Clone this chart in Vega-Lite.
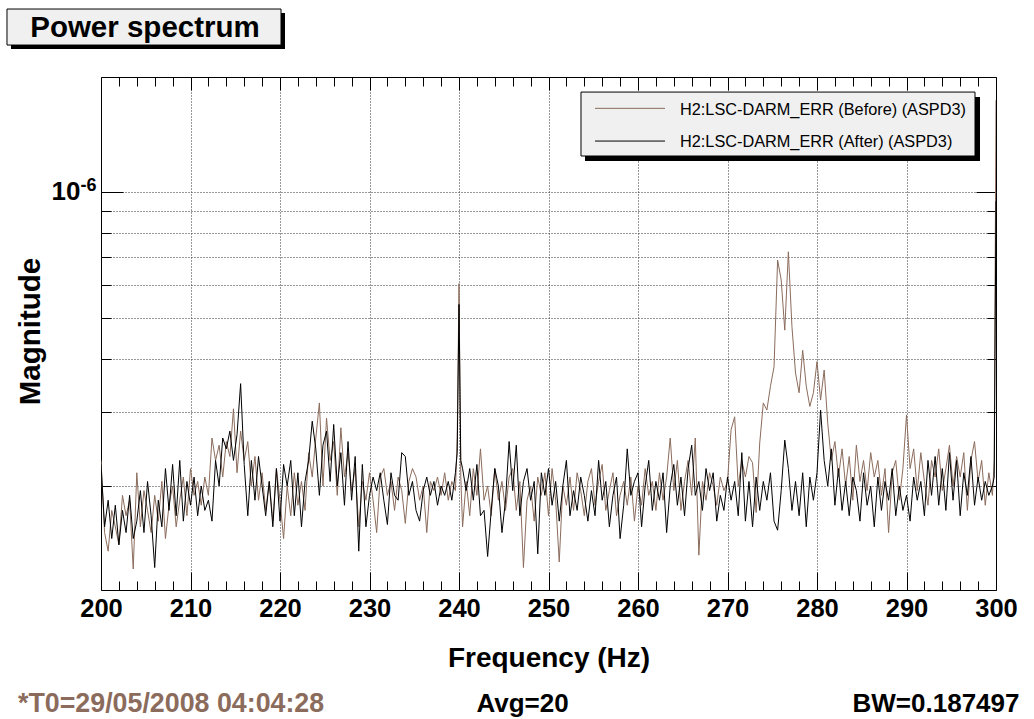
{
"$schema": "https://vega.github.io/schema/vega-lite/v6.json",
"width": 895, "height": 513,
"autosize": "none",
"padding": {"left": 101, "top": 77, "right": 38, "bottom": 129},
"background": "white",
"config": {
  "view": {"stroke": "black", "strokeWidth": 1},
  "axis": {"domain": false, "labelFont": "Liberation Sans", "titleFont": "Liberation Sans", "labelColor": "black", "titleColor": "black", "tickColor": "black", "tickWidth": 1, "gridColor": "#333333", "gridDash": [1, 2], "gridWidth": 1},
  "text": {"font": "Liberation Sans"}
},
"data": {"values": [
{"f":200,"b":2.3e-7,"a":2.25e-7},{"f":200.4,"b":1.55e-7,"a":1.6e-7},{"f":200.8,"b":1.4e-7,"a":1.85e-7},{"f":201.2,"b":1.75e-7,"a":1.5e-7},{"f":201.6,"b":1.6e-7,"a":1.8e-7},
{"f":202,"b":1.45e-7,"a":1.45e-7},{"f":202.4,"b":1.9e-7,"a":1.75e-7},{"f":202.8,"b":1.7e-7,"a":1.55e-7},{"f":203.2,"b":1.85e-7,"a":1.9e-7},{"f":203.6,"b":1.27e-7,"a":1.5e-7},
{"f":204,"b":2.15e-7,"a":1.65e-7},{"f":204.4,"b":1.6e-7,"a":1.95e-7},{"f":204.8,"b":1.95e-7,"a":1.55e-7},{"f":205.2,"b":1.75e-7,"a":2.05e-7},{"f":205.6,"b":1.55e-7,"a":1.7e-7},
{"f":206,"b":1.9e-7,"a":1.28e-7},{"f":206.4,"b":1.65e-7,"a":1.85e-7},{"f":206.8,"b":2.05e-7,"a":1.6e-7},{"f":207.2,"b":1.5e-7,"a":2.2e-7},{"f":207.6,"b":1.8e-7,"a":1.75e-7},
{"f":208,"b":2.0e-7,"a":2.25e-7},{"f":208.4,"b":1.6e-7,"a":1.7e-7},{"f":208.8,"b":1.85e-7,"a":2.3e-7},{"f":209.2,"b":2.1e-7,"a":1.65e-7},{"f":209.6,"b":1.7e-7,"a":2.05e-7},
{"f":210,"b":2.2e-7,"a":1.8e-7},{"f":210.4,"b":1.9e-7,"a":2.1e-7},{"f":210.8,"b":2.05e-7,"a":1.7e-7},{"f":211.2,"b":1.8e-7,"a":2.0e-7},{"f":211.6,"b":2.1e-7,"a":1.75e-7},
{"f":212,"b":1.9e-7,"a":1.85e-7},{"f":212.4,"b":2.6e-7,"a":1.65e-7},{"f":212.8,"b":2.3e-7,"a":2.3e-7},{"f":213.2,"b":2.5e-7,"a":2.0e-7},{"f":213.6,"b":2.1e-7,"a":2.6e-7},
{"f":214,"b":2.55e-7,"a":2.45e-7},{"f":214.4,"b":2.35e-7,"a":2.7e-7},{"f":214.8,"b":3.05e-7,"a":2.3e-7},{"f":215.2,"b":2.15e-7,"a":2.65e-7},{"f":215.6,"b":2.7e-7,"a":3.5e-7},
{"f":216,"b":2.3e-7,"a":2.25e-7},{"f":216.4,"b":2.55e-7,"a":1.7e-7},{"f":216.8,"b":2.0e-7,"a":2.3e-7},{"f":217.2,"b":2.35e-7,"a":1.85e-7},{"f":217.6,"b":1.85e-7,"a":2.35e-7},
{"f":218,"b":2.15e-7,"a":2.0e-7},{"f":218.4,"b":1.75e-7,"a":1.7e-7},{"f":218.8,"b":2.05e-7,"a":2.05e-7},{"f":219.2,"b":1.65e-7,"a":1.6e-7},{"f":219.6,"b":2.2e-7,"a":2.2e-7},
{"f":220,"b":1.85e-7,"a":1.65e-7},{"f":220.4,"b":1.5e-7,"a":2.25e-7},{"f":220.8,"b":2.0e-7,"a":2.0e-7},{"f":221.2,"b":1.7e-7,"a":2.3e-7},{"f":221.6,"b":2.15e-7,"a":1.7e-7},
{"f":222,"b":1.8e-7,"a":2.15e-7},{"f":222.4,"b":2.05e-7,"a":1.6e-7},{"f":222.8,"b":1.75e-7,"a":2.05e-7},{"f":223.2,"b":2.4e-7,"a":2.3e-7},{"f":223.6,"b":2.1e-7,"a":2.85e-7},
{"f":224,"b":2.6e-7,"a":2.45e-7},{"f":224.4,"b":3.15e-7,"a":1.9e-7},{"f":224.8,"b":2.0e-7,"a":2.5e-7},{"f":225.2,"b":2.9e-7,"a":2.7e-7},{"f":225.6,"b":2.3e-7,"a":2.05e-7},
{"f":226,"b":2.55e-7,"a":2.8e-7},{"f":226.4,"b":1.9e-7,"a":2.0e-7},{"f":226.8,"b":2.75e-7,"a":2.4e-7},{"f":227.2,"b":2.1e-7,"a":1.8e-7},{"f":227.6,"b":2.4e-7,"a":2.55e-7},
{"f":228,"b":1.95e-7,"a":1.85e-7},{"f":228.4,"b":2.2e-7,"a":2.35e-7},{"f":228.8,"b":1.6e-7,"a":1.4e-7},{"f":229.2,"b":2.05e-7,"a":2.25e-7},{"f":229.6,"b":1.85e-7,"a":1.6e-7},
{"f":230,"b":2.15e-7,"a":1.9e-7},{"f":230.4,"b":1.85e-7,"a":2.1e-7},{"f":230.8,"b":1.55e-7,"a":1.95e-7},{"f":231.2,"b":2.1e-7,"a":2.15e-7},{"f":231.6,"b":2.2e-7,"a":1.85e-7},
{"f":232,"b":1.9e-7,"a":1.62e-7},{"f":232.4,"b":2.05e-7,"a":2.15e-7},{"f":232.8,"b":1.75e-7,"a":1.9e-7},{"f":233.2,"b":2.1e-7,"a":1.85e-7},{"f":233.6,"b":1.95e-7,"a":2.4e-7},
{"f":234,"b":1.63e-7,"a":2.35e-7},{"f":234.4,"b":2.05e-7,"a":1.9e-7},{"f":234.8,"b":2.2e-7,"a":2.05e-7},{"f":235.2,"b":2.1e-7,"a":1.75e-7},{"f":235.6,"b":1.85e-7,"a":1.65e-7},
{"f":236,"b":2.0e-7,"a":1.95e-7},{"f":236.4,"b":1.55e-7,"a":2.1e-7},{"f":236.8,"b":2.05e-7,"a":1.9e-7},{"f":237.2,"b":1.95e-7,"a":2.05e-7},{"f":237.6,"b":2.1e-7,"a":1.8e-7},
{"f":238,"b":1.9e-7,"a":2.0e-7},{"f":238.4,"b":2.15e-7,"a":1.9e-7},{"f":238.8,"b":1.85e-7,"a":2.05e-7},{"f":239.2,"b":2.05e-7,"a":1.85e-7},{"f":239.6,"b":1.95e-7,"a":2.15e-7},
{"f":239.8,"b":2.6e-7,"a":2.4e-7},{"f":240,"b":6.05e-7,"a":5.4e-7},{"f":240.2,"b":2.1e-7,"a":2.3e-7},
{"f":240.4,"b":1.6e-7,"a":2.2e-7},{"f":240.8,"b":2.05e-7,"a":1.95e-7},{"f":241.2,"b":1.7e-7,"a":2.2e-7},{"f":241.6,"b":2.2e-7,"a":1.85e-7},
{"f":242,"b":1.9e-7,"a":2.25e-7},{"f":242.4,"b":2.45e-7,"a":1.7e-7},{"f":242.8,"b":1.85e-7,"a":1.75e-7},{"f":243.2,"b":2.0e-7,"a":1.36e-7},{"f":243.6,"b":1.7e-7,"a":1.75e-7},
{"f":244,"b":2.2e-7,"a":2.2e-7},{"f":244.4,"b":1.85e-7,"a":2.0e-7},{"f":244.8,"b":2.05e-7,"a":1.55e-7},{"f":245.2,"b":1.75e-7,"a":1.85e-7},{"f":245.6,"b":2.1e-7,"a":2.55e-7},
{"f":246,"b":2.2e-7,"a":1.95e-7},{"f":246.4,"b":1.75e-7,"a":2.5e-7},{"f":246.8,"b":2.05e-7,"a":1.7e-7},{"f":247.2,"b":1.28e-7,"a":2.05e-7},{"f":247.6,"b":1.85e-7,"a":2.2e-7},
{"f":248,"b":2.0e-7,"a":1.85e-7},{"f":248.4,"b":1.65e-7,"a":2.05e-7},{"f":248.8,"b":2.1e-7,"a":1.38e-7},{"f":249.2,"b":1.9e-7,"a":2.15e-7},{"f":249.6,"b":2.15e-7,"a":1.9e-7},
{"f":250,"b":1.7e-7,"a":2.2e-7},{"f":250.4,"b":2.2e-7,"a":1.8e-7},{"f":250.8,"b":1.85e-7,"a":2.05e-7},{"f":251.2,"b":1.32e-7,"a":1.65e-7},{"f":251.6,"b":2.0e-7,"a":2.0e-7},
{"f":252,"b":1.8e-7,"a":2.3e-7},{"f":252.4,"b":2.1e-7,"a":1.7e-7},{"f":252.8,"b":1.75e-7,"a":1.95e-7},{"f":253.2,"b":2.15e-7,"a":1.75e-7},{"f":253.6,"b":1.95e-7,"a":2.1e-7},
{"f":254,"b":1.7e-7,"a":1.9e-7},{"f":254.4,"b":2.05e-7,"a":1.65e-7},{"f":254.8,"b":2.2e-7,"a":1.95e-7},{"f":255.2,"b":1.8e-7,"a":1.7e-7},{"f":255.6,"b":2.05e-7,"a":2.3e-7},
{"f":256,"b":2.25e-7,"a":1.85e-7},{"f":256.4,"b":1.75e-7,"a":2.05e-7},{"f":256.8,"b":1.95e-7,"a":1.6e-7},{"f":257.2,"b":2.15e-7,"a":1.9e-7},{"f":257.6,"b":1.7e-7,"a":2.1e-7},
{"f":258,"b":1.9e-7,"a":1.5e-7},{"f":258.4,"b":2.05e-7,"a":1.8e-7},{"f":258.8,"b":1.8e-7,"a":2.45e-7},{"f":259.2,"b":2.1e-7,"a":1.9e-7},{"f":259.6,"b":1.65e-7,"a":2.05e-7},
{"f":260,"b":2.0e-7,"a":2.15e-7},{"f":260.4,"b":1.8e-7,"a":1.6e-7},{"f":260.8,"b":2.2e-7,"a":2.0e-7},{"f":261.2,"b":1.9e-7,"a":2.3e-7},{"f":261.6,"b":2.05e-7,"a":1.75e-7},
{"f":262,"b":1.75e-7,"a":2.05e-7},{"f":262.4,"b":2.15e-7,"a":1.85e-7},{"f":262.8,"b":1.85e-7,"a":2.15e-7},{"f":263.2,"b":2.1e-7,"a":1.55e-7},{"f":263.6,"b":2.6e-7,"a":2.0e-7},
{"f":264,"b":1.95e-7,"a":2.25e-7},{"f":264.4,"b":2.3e-7,"a":1.8e-7},{"f":264.8,"b":1.75e-7,"a":2.1e-7},{"f":265.2,"b":2.05e-7,"a":1.7e-7},{"f":265.6,"b":2.3e-7,"a":2.2e-7},
{"f":266,"b":1.9e-7,"a":2.5e-7},{"f":266.4,"b":2.6e-7,"a":1.9e-7},{"f":266.8,"b":1.37e-7,"a":2.05e-7},{"f":267.2,"b":2.05e-7,"a":1.75e-7},{"f":267.6,"b":1.85e-7,"a":2.2e-7},
{"f":268,"b":2.15e-7,"a":1.95e-7},{"f":268.4,"b":2.0e-7,"a":2.15e-7},{"f":268.8,"b":1.8e-7,"a":1.65e-7},{"f":269.2,"b":2.1e-7,"a":1.9e-7},{"f":269.6,"b":1.95e-7,"a":1.75e-7},
{"f":270,"b":2.05e-7,"a":2.1e-7},{"f":270.4,"b":2.72e-7,"a":1.85e-7},{"f":270.8,"b":2.92e-7,"a":2.05e-7},{"f":271.2,"b":2.0e-7,"a":1.7e-7},{"f":271.6,"b":2.3e-7,"a":2.4e-7},
{"f":272,"b":2.1e-7,"a":1.65e-7},{"f":272.4,"b":2.35e-7,"a":2.05e-7},{"f":272.8,"b":2.27e-7,"a":1.6e-7},{"f":273.2,"b":1.73e-7,"a":2.1e-7},{"f":273.6,"b":2.53e-7,"a":1.75e-7},
{"f":274,"b":3.15e-7,"a":2.05e-7},{"f":274.4,"b":3.03e-7,"a":1.85e-7},{"f":274.8,"b":3.45e-7,"a":2.15e-7},{"f":275.2,"b":3.84e-7,"a":1.65e-7},{"f":275.6,"b":6.88e-7,"a":1.57e-7},
{"f":276,"b":6.17e-7,"a":1.95e-7},{"f":276.4,"b":4.69e-7,"a":2.57e-7},{"f":276.8,"b":7.2e-7,"a":2.2e-7},{"f":277.2,"b":4.78e-7,"a":1.75e-7},{"f":277.6,"b":3.71e-7,"a":2.05e-7},
{"f":278,"b":3.33e-7,"a":1.7e-7},{"f":278.4,"b":4.2e-7,"a":2.15e-7},{"f":278.8,"b":3.45e-7,"a":1.6e-7},{"f":279.2,"b":3.09e-7,"a":2.1e-7},{"f":279.6,"b":3.33e-7,"a":1.85e-7},
{"f":280,"b":3.95e-7,"a":2.15e-7},{"f":280.4,"b":3.2e-7,"a":3.03e-7},{"f":280.8,"b":3.77e-7,"a":2.3e-7},{"f":281.2,"b":2.82e-7,"a":2.0e-7},{"f":281.6,"b":2.3e-7,"a":2.45e-7},
{"f":282,"b":2.55e-7,"a":1.8e-7},{"f":282.4,"b":2.1e-7,"a":2.2e-7},{"f":282.8,"b":2.45e-7,"a":1.75e-7},{"f":283.2,"b":2.0e-7,"a":2.05e-7},{"f":283.6,"b":2.35e-7,"a":1.7e-7},
{"f":284,"b":1.85e-7,"a":2.1e-7},{"f":284.4,"b":2.5e-7,"a":1.95e-7},{"f":284.8,"b":2.05e-7,"a":1.65e-7},{"f":285.2,"b":2.3e-7,"a":2.15e-7},{"f":285.6,"b":1.95e-7,"a":1.8e-7},
{"f":286,"b":2.4e-7,"a":2.0e-7},{"f":286.4,"b":2.1e-7,"a":1.6e-7},{"f":286.8,"b":2.3e-7,"a":2.1e-7},{"f":287.2,"b":1.9e-7,"a":1.75e-7},{"f":287.6,"b":2.2e-7,"a":2.05e-7},
{"f":288,"b":1.55e-7,"a":1.85e-7},{"f":288.4,"b":2.15e-7,"a":2.2e-7},{"f":288.8,"b":2.3e-7,"a":1.7e-7},{"f":289.2,"b":1.85e-7,"a":2.0e-7},{"f":289.6,"b":2.2e-7,"a":1.75e-7},
{"f":290,"b":2.95e-7,"a":1.9e-7},{"f":290.4,"b":2.2e-7,"a":1.65e-7},{"f":290.8,"b":2.45e-7,"a":2.1e-7},{"f":291.2,"b":1.95e-7,"a":1.85e-7},{"f":291.6,"b":2.4e-7,"a":2.05e-7},
{"f":292,"b":2.05e-7,"a":1.7e-7},{"f":292.4,"b":1.8e-7,"a":2.3e-7},{"f":292.8,"b":2.3e-7,"a":1.9e-7},{"f":293.2,"b":2.1e-7,"a":2.35e-7},{"f":293.6,"b":2.45e-7,"a":1.8e-7},
{"f":294,"b":1.95e-7,"a":2.2e-7},{"f":294.4,"b":2.2e-7,"a":1.75e-7},{"f":294.8,"b":2.5e-7,"a":2.4e-7},{"f":295.2,"b":2.0e-7,"a":1.85e-7},{"f":295.6,"b":2.35e-7,"a":2.3e-7},
{"f":296,"b":2.1e-7,"a":1.7e-7},{"f":296.4,"b":2.4e-7,"a":2.15e-7},{"f":296.8,"b":1.75e-7,"a":1.9e-7},{"f":297.2,"b":2.3e-7,"a":2.35e-7},{"f":297.6,"b":2.55e-7,"a":1.8e-7},
{"f":298,"b":2.05e-7,"a":2.1e-7},{"f":298.4,"b":2.3e-7,"a":1.85e-7},{"f":298.8,"b":1.8e-7,"a":2.05e-7},{"f":299.2,"b":2.15e-7,"a":1.9e-7},{"f":299.6,"b":1.9e-7,"a":2.0e-7},
{"f":299.8,"b":2.3e-7,"a":2.1e-7},{"f":300,"b":1.65e-6,"a":9.5e-7}
]},
"resolve": {"axis": {"x": "independent", "y": "independent"}},
"layer": [
{
  "mark": {"type": "line", "color": "#8b6c5c", "strokeWidth": 1, "clip": true},
  "encoding": {
    "x": {"field": "f", "type": "quantitative", "scale": {"domain": [200, 300], "nice": false, "zero": false},
      "axis": {"orient": "bottom", "values": [200,202,204,206,208,210,212,214,216,218,220,222,224,226,228,230,232,234,236,238,240,242,244,246,248,250,252,254,256,258,260,262,264,266,268,270,272,274,276,278,280,282,284,286,288,290,292,294,296,298,300],
        "tickSize": {"condition": {"test": "datum.value % 10 === 0", "value": -18}, "value": -9},
        "grid": true, "gridOpacity": {"condition": {"test": "datum.value % 10 === 0 && datum.value > 200 && datum.value < 300", "value": 1}, "value": 0},
        "labelExpr": "datum.value % 10 === 0 ? datum.label : ''",
        "labelFontSize": 25.5, "labelFontWeight": "bold", "labelBaseline": "alphabetic", "labelPadding": 44.7, "labelFlush": false, "labelOverlap": false,
        "title": "Frequency (Hz)", "titleFontSize": 28, "titleFontWeight": "bold", "titleBaseline": "alphabetic", "titleY": 76}},
    "y": {"field": "b", "type": "quantitative", "scale": {"type": "log", "domain": [1.1322e-7, 1.873e-6], "nice": false},
      "axis": {"orient": "left", "values": [2e-7, 3e-7, 4e-7, 5e-7, 6e-7, 7e-7, 8e-7, 9e-7, 1e-6],
        "tickSize": {"condition": {"test": "abs(log(datum.value)/LN10+6) < 0.01", "value": -22}, "value": -10},
        "grid": true,
        "labelExpr": "abs(log(datum.value)/LN10+6) < 0.01 ? '10' : ''",
        "labelFontSize": 26, "labelFontWeight": "bold", "labelPadding": 43, "labelOverlap": false,
        "title": "Magnitude", "titleFontSize": 29.5, "titleFontWeight": "bold", "titleBaseline": "alphabetic", "titleX": -62, "titleY": 254}}
  }
},
{
  "mark": {"type": "line", "color": "#000000", "strokeWidth": 1, "clip": true},
  "encoding": {
    "x": {"field": "f", "type": "quantitative", "scale": {"domain": [200, 300], "nice": false, "zero": false},
      "axis": {"orient": "top", "values": [200,202,204,206,208,210,212,214,216,218,220,222,224,226,228,230,232,234,236,238,240,242,244,246,248,250,252,254,256,258,260,262,264,266,268,270,272,274,276,278,280,282,284,286,288,290,292,294,296,298,300],
        "tickSize": {"condition": {"test": "datum.value % 10 === 0", "value": -13}, "value": -9},
        "grid": false, "labels": false, "title": null}},
    "y": {"field": "a", "type": "quantitative", "scale": {"type": "log", "domain": [1.1322e-7, 1.873e-6], "nice": false},
      "axis": {"orient": "right", "values": [2e-7, 3e-7, 4e-7, 5e-7, 6e-7, 7e-7, 8e-7, 9e-7, 1e-6],
        "tickSize": {"condition": {"test": "abs(log(datum.value)/LN10+6) < 0.01", "value": -20}, "value": -9},
        "grid": false, "labels": false, "title": null}}
  }
},
{
  "data": {"values": [{}]},
  "mark": {"type": "rect", "color": "black"},
  "encoding": {
    "x": {"datum": 189.944, "type": "quantitative", "scale": {"domain": [200, 300], "nice": false, "zero": false}, "axis": null},
    "x2": {"datum": 220.559},
    "y": {"datum": 2.657e-6, "type": "quantitative", "scale": {"type": "log", "domain": [1.1322e-7, 1.873e-6], "nice": false}, "axis": null},
    "y2": {"datum": 2.1826e-6}
  }
},
{
  "data": {"values": [{}]},
  "mark": {"type": "rect", "fill": "#f0f0f0", "stroke": "black", "strokeWidth": 1},
  "encoding": {
    "x": {"datum": 189.497, "type": "quantitative", "scale": {"domain": [200, 300], "nice": false, "zero": false}, "axis": null},
    "x2": {"datum": 220.112},
    "y": {"datum": 2.7165e-6, "type": "quantitative", "scale": {"type": "log", "domain": [1.1322e-7, 1.873e-6], "nice": false}, "axis": null},
    "y2": {"datum": 2.2308e-6}
  }
},
{
  "data": {"values": [{"label": "Power spectrum"}]},
  "mark": {"type": "text", "font": "Liberation Sans", "fontWeight": "bold", "fontSize": 29.5, "align": "center", "baseline": "alphabetic", "color": "black"},
  "encoding": {
    "x": {"datum": 204.916, "type": "quantitative", "scale": {"domain": [200, 300], "nice": false, "zero": false}, "axis": null},
    "y": {"datum": 2.3263e-6, "type": "quantitative", "scale": {"type": "log", "domain": [1.1322e-7, 1.873e-6], "nice": false}, "axis": null},
    "text": {"field": "label"}
  }
},
{
  "data": {"values": [{}]},
  "mark": {"type": "rect", "color": "black"},
  "encoding": {
    "x": {"datum": 254.078, "type": "quantitative", "scale": {"domain": [200, 300], "nice": false, "zero": false}, "axis": null},
    "x2": {"datum": 298.212},
    "y": {"datum": 1.6785e-6, "type": "quantitative", "scale": {"type": "log", "domain": [1.1322e-7, 1.873e-6], "nice": false}, "axis": null},
    "y2": {"datum": 1.1827e-6}
  }
},
{
  "data": {"values": [{}]},
  "mark": {"type": "rect", "fill": "#f0f0f0", "stroke": "black", "strokeWidth": 1},
  "encoding": {
    "x": {"datum": 253.631, "type": "quantitative", "scale": {"domain": [200, 300], "nice": false, "zero": false}, "axis": null},
    "x2": {"datum": 297.654},
    "y": {"datum": 1.725e-6, "type": "quantitative", "scale": {"type": "log", "domain": [1.1322e-7, 1.873e-6], "nice": false}, "axis": null},
    "y2": {"datum": 1.2158e-6}
  }
},
{
  "data": {"values": [{}]},
  "mark": {"type": "rule", "color": "#8b6c5c", "strokeWidth": 1},
  "encoding": {
    "x": {"datum": 255.196, "type": "quantitative", "scale": {"domain": [200, 300], "nice": false, "zero": false}, "axis": null},
    "x2": {"datum": 263.017},
    "y": {"datum": 1.578e-6, "type": "quantitative", "scale": {"type": "log", "domain": [1.1322e-7, 1.873e-6], "nice": false}, "axis": null}
  }
},
{
  "data": {"values": [{}]},
  "mark": {"type": "rule", "color": "#000000", "strokeWidth": 1},
  "encoding": {
    "x": {"datum": 255.196, "type": "quantitative", "scale": {"domain": [200, 300], "nice": false, "zero": false}, "axis": null},
    "x2": {"datum": 263.017},
    "y": {"datum": 1.3194e-6, "type": "quantitative", "scale": {"type": "log", "domain": [1.1322e-7, 1.873e-6], "nice": false}, "axis": null}
  }
},
{
  "data": {"values": [{"label": "H2:LSC-DARM_ERR (Before) (ASPD3)"}]},
  "mark": {"type": "text", "font": "Liberation Sans", "fontSize": 16.3, "align": "left", "baseline": "alphabetic", "color": "black"},
  "encoding": {
    "x": {"datum": 264.693, "type": "quantitative", "scale": {"domain": [200, 300], "nice": false, "zero": false}, "axis": null},
    "y": {"datum": 1.5211e-6, "type": "quantitative", "scale": {"type": "log", "domain": [1.1322e-7, 1.873e-6], "nice": false}, "axis": null},
    "text": {"field": "label"}
  }
},
{
  "data": {"values": [{"label": "H2:LSC-DARM_ERR (After) (ASPD3)"}]},
  "mark": {"type": "text", "font": "Liberation Sans", "fontSize": 16.3, "align": "left", "baseline": "alphabetic", "color": "black"},
  "encoding": {
    "x": {"datum": 264.693, "type": "quantitative", "scale": {"domain": [200, 300], "nice": false, "zero": false}, "axis": null},
    "y": {"datum": 1.279e-6, "type": "quantitative", "scale": {"type": "log", "domain": [1.1322e-7, 1.873e-6], "nice": false}, "axis": null},
    "text": {"field": "label"}
  }
},
{
  "data": {"values": [{"label": "-6"}]},
  "mark": {"type": "text", "font": "Liberation Sans", "fontWeight": "bold", "fontSize": 18, "align": "left", "baseline": "alphabetic", "color": "black"},
  "encoding": {
    "x": {"datum": 197.709, "type": "quantitative", "scale": {"domain": [200, 300], "nice": false, "zero": false}, "axis": null},
    "y": {"datum": 1.0038e-6, "type": "quantitative", "scale": {"type": "log", "domain": [1.1322e-7, 1.873e-6], "nice": false}, "axis": null},
    "text": {"field": "label"}
  }
},
{
  "data": {"values": [{"label": "*T0=29/05/2008 04:04:28"}]},
  "mark": {"type": "text", "font": "Liberation Sans", "fontWeight": "bold", "fontSize": 26.8, "align": "left", "baseline": "alphabetic", "color": "#8b6c5c"},
  "encoding": {
    "x": {"datum": 190.726, "type": "quantitative", "scale": {"domain": [200, 300], "nice": false, "zero": false}, "axis": null},
    "y": {"datum": 5.82e-8, "type": "quantitative", "scale": {"type": "log", "domain": [1.1322e-7, 1.873e-6], "nice": false}, "axis": null},
    "text": {"field": "label"}
  }
},
{
  "data": {"values": [{"label": "Avg=20"}]},
  "mark": {"type": "text", "font": "Liberation Sans", "fontWeight": "bold", "fontSize": 26, "align": "center", "baseline": "alphabetic", "color": "black"},
  "encoding": {
    "x": {"datum": 247.095, "type": "quantitative", "scale": {"domain": [200, 300], "nice": false, "zero": false}, "axis": null},
    "y": {"datum": 5.82e-8, "type": "quantitative", "scale": {"type": "log", "domain": [1.1322e-7, 1.873e-6], "nice": false}, "axis": null},
    "text": {"field": "label"}
  }
},
{
  "data": {"values": [{"label": "BW=0.187497"}]},
  "mark": {"type": "text", "font": "Liberation Sans", "fontWeight": "bold", "fontSize": 26, "align": "right", "baseline": "alphabetic", "color": "black"},
  "encoding": {
    "x": {"datum": 302.626, "type": "quantitative", "scale": {"domain": [200, 300], "nice": false, "zero": false}, "axis": null},
    "y": {"datum": 5.82e-8, "type": "quantitative", "scale": {"type": "log", "domain": [1.1322e-7, 1.873e-6], "nice": false}, "axis": null},
    "text": {"field": "label"}
  }
}
]
}
